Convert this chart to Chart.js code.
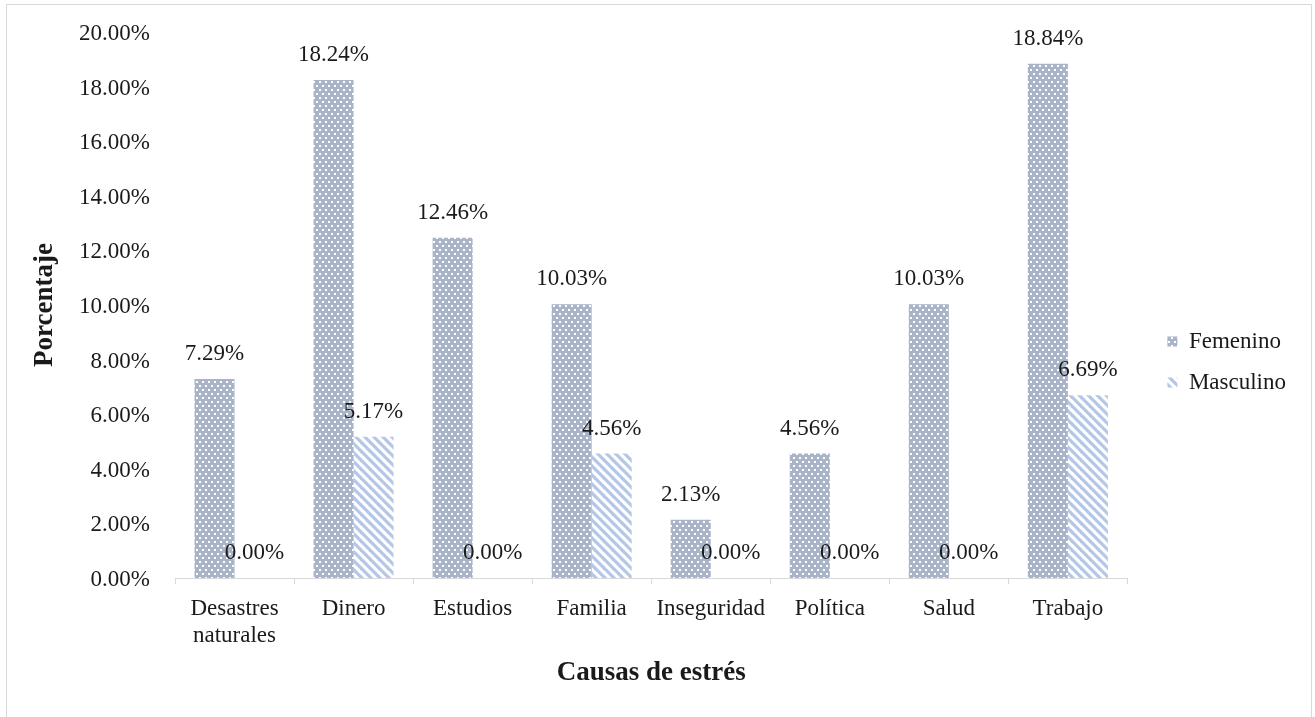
<!DOCTYPE html>
<html>
<head>
<meta charset="utf-8">
<script src="https://cdn.jsdelivr.net/npm/chart.js@4"></script>
<style>
  html, body { margin: 0; padding: 0; background: #ffffff; }
  #wrap { width: 1315px; height: 717px; }
</style>
</head>
<body>
<div id="wrap"><canvas id="c" width="1315" height="717"></canvas></div>
<script>
// Causas de estrés por sexo (porcentaje)
const categories = [['Desastres', 'naturales'], 'Dinero', 'Estudios', 'Familia', 'Inseguridad', 'Política', 'Salud', 'Trabajo'];
const femenino = [7.29, 18.24, 12.46, 10.03, 2.13, 4.56, 10.03, 18.84];
const masculino = [0.00, 5.17, 0.00, 4.56, 0.00, 0.00, 0.00, 6.69];
const yTicks = [0, 2, 4, 6, 8, 10, 12, 14, 16, 18, 20];

const FONT = '"Liberation Serif", "Times New Roman", serif';
const TEXT = '#1a1a1a';
const AXIS = '#d9d9d9';

// Dotted fill: grey-blue with staggered white dots
function dotPattern() {
  const t = document.createElement('canvas');
  t.width = 6; t.height = 8;
  const g = t.getContext('2d');
  g.fillStyle = '#a9b4c8';
  g.fillRect(0, 0, 6, 8);
  g.fillStyle = '#ffffff';
  g.fillRect(1, 1, 2, 2);
  g.fillRect(4, 5, 2, 2);
  return g.createPattern(t, 'repeat');
}

// Diagonal "\" stripes in light blue on white
function stripePattern() {
  const s = 9;
  const t = document.createElement('canvas');
  t.width = s; t.height = s;
  const g = t.getContext('2d');
  g.strokeStyle = '#b4c7e7';
  g.lineWidth = 3.2;
  for (let k = -1; k <= 1; k++) {
    g.beginPath();
    g.moveTo(k * s - 1, -1);
    g.lineTo(k * s + s + 1, s + 1);
    g.stroke();
  }
  return g.createPattern(t, 'repeat');
}

const frame = {
  id: 'frame',
  beforeDraw(chart) {
    const ctx = chart.ctx;
    ctx.save();
    ctx.fillStyle = '#ffffff';
    ctx.fillRect(0, 0, chart.width, chart.height);
    ctx.strokeStyle = AXIS;
    ctx.lineWidth = 1;
    ctx.strokeRect(6.5, 4.5, 1305, 730);
    ctx.restore();
  }
};

const valueLabels = {
  id: 'valueLabels',
  afterDatasetsDraw(chart) {
    const ctx = chart.ctx;
    ctx.save();
    ctx.font = '23px ' + FONT;
    ctx.fillStyle = TEXT;
    ctx.textAlign = 'center';
    ctx.textBaseline = 'alphabetic';
    chart.data.datasets.forEach((ds, i) => {
      chart.getDatasetMeta(i).data.forEach((bar, j) => {
        ctx.fillText(ds.data[j].toFixed(2) + '%', bar.x, bar.y - 19);
      });
    });
    ctx.restore();
  }
};

new Chart(document.getElementById('c'), {
  type: 'bar',
  data: {
    labels: categories,
    datasets: [
      { label: 'Femenino', data: femenino, backgroundColor: dotPattern(), borderWidth: 0 },
      { label: 'Masculino', data: masculino, backgroundColor: stripePattern(), borderWidth: 0 }
    ]
  },
  options: {
    responsive: false,
    animation: false,
    devicePixelRatio: 1,
    layout: { padding: { top: 7, bottom: 0, left: 0, right: 19 } },
    datasets: { bar: { categoryPercentage: 0.672, barPercentage: 1.0 } },
    plugins: {
      tooltip: { enabled: false },
      legend: {
        position: 'right',
        labels: {
          font: { family: FONT, size: 23 },
          color: TEXT,
          boxWidth: 10,
          boxHeight: 10,
          padding: 18
        }
      }
    },
    scales: {
      x: {
        position: 'bottom',
        grid: { display: true, drawOnChartArea: false, drawTicks: true, tickLength: 6, color: AXIS, offset: true },
        border: { display: true, color: AXIS, width: 1 },
        ticks: { font: { family: FONT, size: 23, lineHeight: 1.2 }, color: TEXT, padding: 11, maxRotation: 0, autoSkip: false },
        title: { display: true, text: 'Causas de estrés', font: { family: FONT, size: 27, weight: 'bold', lineHeight: 1.2 }, color: TEXT, padding: { top: 0, bottom: 28 } },
        afterFit(s) { s.height = 139; }
      },
      xTop: {
        type: 'category',
        position: 'top',
        display: true,
        grid: { display: false },
        border: { display: false },
        ticks: { display: false },
        afterFit(s) { s.height = 25; }
      },
      y: {
        min: 0,
        max: 20,
        afterBuildTicks(s) { s.ticks = yTicks.map(v => ({ value: v })); },
        grid: { display: false },
        border: { display: false },
        ticks: { font: { family: FONT, size: 23 }, color: TEXT, padding: 17, labelOffset: 2, callback: v => v.toFixed(2) + '%' },
        title: { display: true, text: 'Porcentaje', font: { family: FONT, size: 27, weight: 'bold', lineHeight: 1.2 }, color: TEXT, padding: { top: 29, bottom: 0 } },
        afterFit(s) { s.width = 175; }
      },
      yRight: {
        type: 'linear',
        position: 'right',
        display: true,
        grid: { display: false },
        border: { display: false },
        ticks: { display: false },
        afterFit(s) { s.width = 22; }
      }
    }
  },
  plugins: [frame, valueLabels]
});
</script>
</body>
</html>
